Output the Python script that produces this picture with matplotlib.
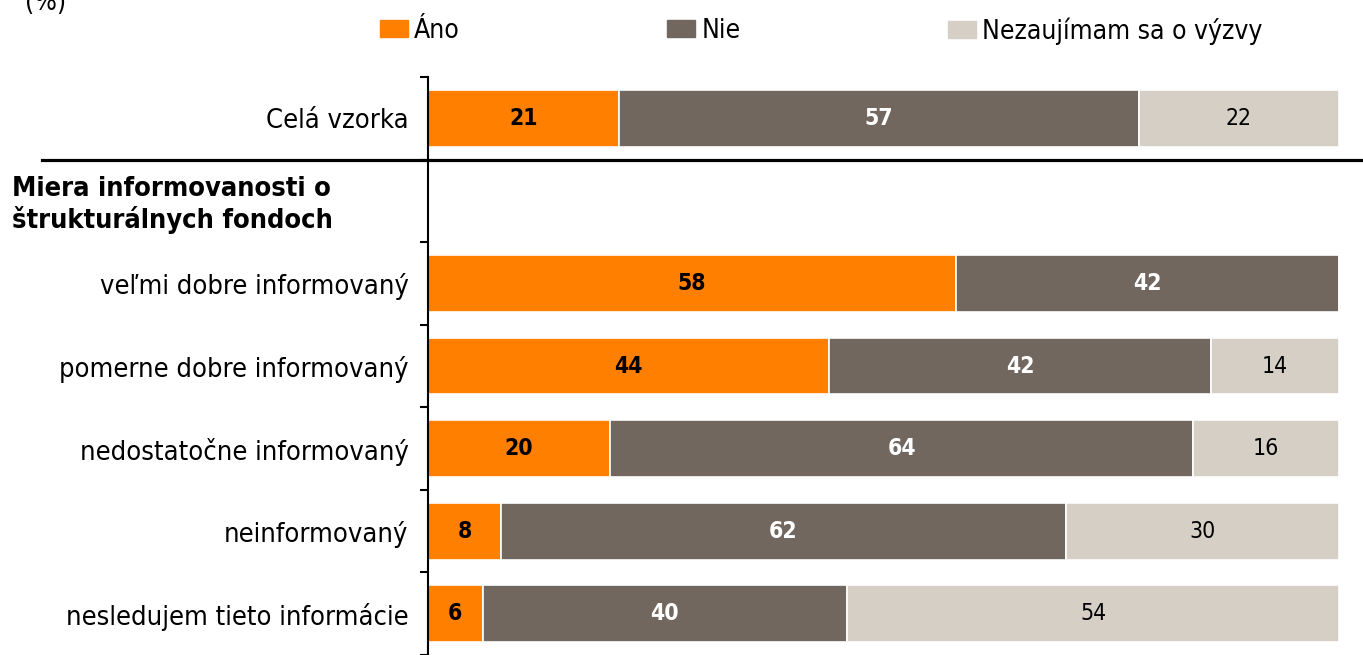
import matplotlib.pyplot as plt
import matplotlib.patches as mpatches

# share of answers per group, in %
groups = ['Celá vzorka', 'veľmi dobre informovaný', 'pomerne dobre informovaný',
          'nedostatočne informovaný', 'neinformovaný', 'nesledujem tieto informácie']
ano = [21, 58, 44, 20, 8, 6]
nie = [57, 42, 42, 64, 62, 40]
nezaujimam = [22, 0, 14, 16, 30, 54]
series_names = ['Áno', 'Nie', 'Nezaujímam sa o výzvy']
header = 'Miera informovanosti o\nštrukturálnych fondoch'

colors = ['#FF8000', '#72675F', '#D5CFC6']
plt.rcParams['font.family'] = 'DejaVu Sans'
plt.rcParams['font.stretch'] = 'condensed'

# row 1 is kept empty for the group header
rows = [0, 2, 3, 4, 5, 6]

fig = plt.figure(figsize=(13.63, 6.55), dpi=100)
ax = fig.add_axes([0.314, 0.0, 0.6684, 0.8824])

left = [0] * len(rows)
for vals, col, name in zip([ano, nie, nezaujimam], colors, series_names):
    ax.barh(rows, vals, left=left, height=0.69, color=col, edgecolor='white',
            linewidth=1.2, label=name)
    for r, v, l in zip(rows, vals, left):
        if v <= 0:
            continue
        if name == 'Áno':
            kw = dict(color='black', fontweight='bold')
        elif name == 'Nie':
            kw = dict(color='white', fontweight='bold')
        else:
            kw = dict(color='black')
        ax.text(l + v / 2, r, str(v), ha='center', va='center', fontsize=16.5, **kw)
    left = [a + b for a, b in zip(left, vals)]

ax.set_xlim(0, 100)
ax.set_ylim(6.5, -0.5)
for s in ['top', 'right', 'bottom']:
    ax.spines[s].set_visible(False)
ax.spines['left'].set_linewidth(1.5)
ax.set_xticks([])

ax.set_yticks(rows)
ax.set_yticklabels(groups, fontsize=19.5)
ax.tick_params(axis='y', which='major', length=0, pad=14)
ax.set_yticks([i - 0.5 for i in range(8)], minor=True)
ax.tick_params(axis='y', which='minor', length=6, width=1.5, direction='out')

# group header and separator line
ax.text(-0.457, 1.05, header, transform=ax.get_yaxis_transform(), ha='left',
        va='center', fontsize=19.5, fontweight='bold', linespacing=1.2)
ax.axhline(0.5, xmin=-0.424, xmax=1.03, color='black', linewidth=2.3, clip_on=False)

fig.text(0.018, 0.995, '(%)', ha='left', va='center', fontsize=19)

# legend entries spaced like the original layout
handles = [mpatches.Patch(color=c) for c in colors]
for h, name, x in zip(handles, series_names, [380, 667, 948]):
    fig.legend([h], [name], loc='center left', bbox_to_anchor=(x / 1363, 1 - 31 / 655),
               frameon=False, prop={'size': 19, 'stretch': 'condensed'},
               handlelength=1.05, handleheight=0.6, handletextpad=0.25,
               borderpad=0, borderaxespad=0)

fig.savefig('out.png', dpi=100)
